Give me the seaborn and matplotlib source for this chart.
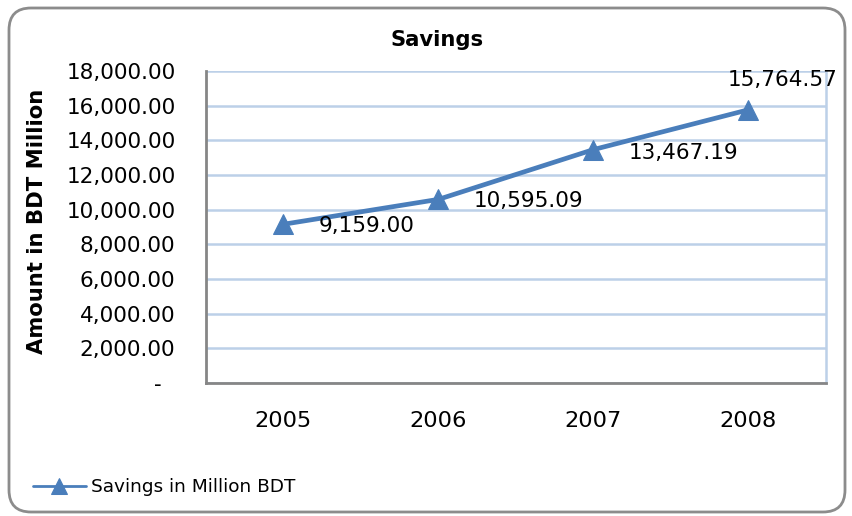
import pandas as pd
import matplotlib.pyplot as plt
import seaborn as sns
from matplotlib.patches import FancyBboxPatch
from matplotlib.ticker import FuncFormatter

# Data
years = ['2005', '2006', '2007', '2008']
savings = [9159.00, 10595.09, 13467.19, 15764.57]
label_offsets = [(35, -2), (35, -2), (35, -3), (34, 30)]  # pixels
label_align = ['left', 'left', 'left', 'center']

df = pd.DataFrame({'year': years, 'savings': savings})

sns.set_style('white')
plt.rcParams['font.family'] = ['DejaVu Sans']
plt.rcParams['text.color'] = 'black'
plt.rcParams['xtick.color'] = 'black'
plt.rcParams['ytick.color'] = 'black'

fig = plt.figure(figsize=(8.53, 5.16), dpi=100)
ax = fig.add_axes([206 / 853, 1 - 383 / 516, 620 / 853, 312 / 516])

blue = '#4A7EBB'
sns.lineplot(data=df, x='year', y='savings', ax=ax, color=blue, linewidth=3.4,
             marker='^', markersize=14, markeredgecolor=blue,
             label='Savings in Million BDT', legend=False)

ax.set_xlim(-0.5, 3.5)
ax.set_ylim(0, 18000)
ax.set_yticks(range(0, 18001, 2000))
ax.yaxis.set_major_formatter(FuncFormatter(lambda v, p: '-  ' if v == 0 else f'{v:,.2f}'))
ax.grid(axis='y', color='#BCD0E8', linewidth=1.8)
ax.set_axisbelow(True)
ax.tick_params(axis='y', length=0, labelsize=15.5, pad=22)
ax.tick_params(axis='x', length=0, labelsize=16.2, pad=20)
for lab in ax.get_yticklabels():
    lab.set_horizontalalignment('right')

for side in ['left', 'bottom']:
    ax.spines[side].set_color('#868686')
    ax.spines[side].set_linewidth(2)
ax.spines['top'].set_visible(False)
ax.spines['right'].set_color('#BCD0E8')
ax.spines['right'].set_linewidth(1.8)

ax.set_xlabel('')
ax.set_ylabel('')

for i, (v, off, ha) in enumerate(zip(savings, label_offsets, label_align)):
    ax.annotate(f'{v:,.2f}', (i, v), xytext=off, textcoords='offset pixels',
                ha=ha, va='center', fontsize=15.5)

fig.text(437 / 853, 1 - 40 / 516, 'Savings', ha='center', va='center',
         fontsize=15.2, fontweight='bold')
fig.text(37 / 853, 1 - 221 / 516, 'Amount in BDT Million', ha='center', va='center',
         rotation=90, fontsize=15.2, fontweight='bold')

handles, labels = ax.get_legend_handles_labels()
leg = fig.legend(handles, labels, loc='center left', bbox_to_anchor=(16 / 853, 1 - 487 / 516),
                 frameon=False, fontsize=13.3, handlelength=2.9, handletextpad=0.27)
for ln in leg.get_lines():
    ln.set_linewidth(2)
    ln.set_markersize(11)

border = FancyBboxPatch((0.09, 0.04), 8.36, 5.04, boxstyle='round,pad=0,rounding_size=0.22',
                        transform=fig.dpi_scale_trans, facecolor='none',
                        edgecolor='#8C8C8C', linewidth=2, clip_on=False)
fig.patches.append(border)

fig.savefig('out.png', dpi=100)
